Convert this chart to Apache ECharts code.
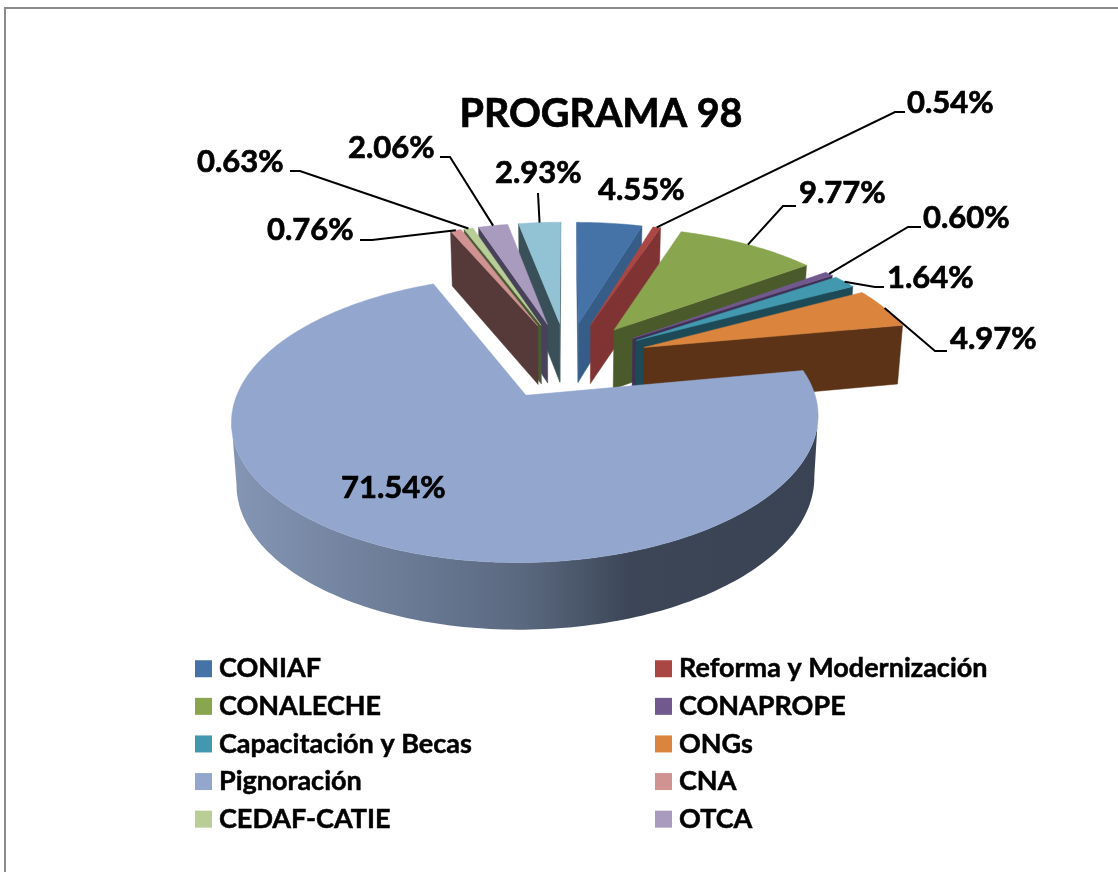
<!DOCTYPE html>
<html>
<head>
<meta charset="utf-8">
<title>PROGRAMA 98</title>
<script src="https://cdn.jsdelivr.net/npm/echarts@6/dist/echarts.min.js"></script>
<style>
html, body { margin: 0; padding: 0; background: #fff; }
#chart { width: 1118px; height: 872px; }
</style>
</head>
<body>
<div id="chart"></div>
<script>
const categories = ['CONIAF', 'Reforma y Modernización', 'CONALECHE', 'CONAPROPE', 'Capacitación y Becas',
    'ONGs', 'Pignoración', 'CNA', 'CEDAF-CATIE', 'OTCA', 'Otros'];
const shares = [4.55, 0.54, 9.77, 0.60, 1.64, 4.97, 71.54, 0.76, 0.63, 2.06, 2.93];
const topColors = ['#4572A7', '#AA4643', '#89A54E', '#71588F', '#4198AF', '#DB843D',
    '#92A6CE', '#D19392', '#B9CD96', '#A99BBD', '#91C3D5'];
const wallColors = ['#355D88', '#7F3333', '#4A5A2A', '#3F3055', '#1D4A56', '#5C3317',
    '#3C475C', '#563A3A', '#4A5A35', '#47415A', '#3A5058'];

// label text anchor (left, middle) and the elbow of each leader line, in page pixels
const labelAnchors = [[598, 190], [907, 103], [799, 193], [923, 218], [887, 278],
    [950, 339], [341, 488], [267, 230], [197, 162], [348, 148], [495, 173]];
const leaderElbows = [null, [[895, 112], [905, 112]], [[783, 206], [796, 206]], [[908, 227], [921, 227]],
    [[875, 287], [884, 287]], [[935, 351], [947, 351]], null, [[372, 240], [360, 240]],
    [[300, 171], [290, 171]], [[450, 157], [440, 157]], [[538, 193]]];

// projection of the tilted pie
const cx = 567, cy = 360, rx = 277, ry = 128, persp = 0.159, explode = 0.3, depth = 60;
const FONT = 'Lato, "Open Sans", sans-serif';

const total = shares.reduce((a, b) => a + b, 0);
const slices = [];
let acc = 0;
shares.forEach(v => {
    const start = acc / total * Math.PI * 2;
    acc += v;
    const end = acc / total * Math.PI * 2;
    slices.push({start, end, mid: (start + end) / 2});
});

function project(x, y, low) {
    const s = 1 / (1 + persp * y);
    let px = rx * x * s;
    let py = cy - ry * y * s;
    if (low) {
        px *= 0.985;
        py += depth * Math.pow(s, 0.5);
    }
    return [cx + px, py];
}

function rimPoint(sl, a, low) {
    return project(explode * Math.sin(sl.mid) + Math.sin(a), explode * Math.cos(sl.mid) + Math.cos(a), low);
}

function apexPoint(sl, low) {
    return project(explode * Math.sin(sl.mid), explode * Math.cos(sl.mid), low);
}

function renderSlice(i) {
    const sl = slices[i];
    const steps = Math.max(2, Math.ceil((sl.end - sl.start) / 0.02));
    const angles = [];
    for (let k = 0; k <= steps; k++) {
        angles.push(sl.start + (sl.end - sl.start) * k / steps);
    }
    const rim = angles.map(a => rimPoint(sl, a, false));
    const rimLow = angles.map(a => rimPoint(sl, a, true));
    const apex = apexPoint(sl, false);
    const apexLow = apexPoint(sl, true);
    const children = [];
    const wall = (pts, fill) => children.push({
        type: 'polygon', shape: {points: pts},
        style: {fill: fill, stroke: typeof fill === 'string' ? fill : null, lineWidth: 0.5}
    });

    // radial walls, only when they face the viewer
    if (rim[0][0] < apex[0]) {
        wall([apex, rim[0], rimLow[0], apexLow], wallColors[i]);
    }
    if (apex[0] < rim[steps][0]) {
        wall([rim[steps], apex, apexLow, rimLow[steps]], wallColors[i]);
    }

    // outer wall: the run of rim segments that moves right to left on screen
    const front = [];
    for (let k = 0; k < steps; k++) {
        if (rim[k + 1][0] < rim[k][0]) {
            front.push(k);
        }
    }
    if (front.length) {
        const first = front[0], last = front[front.length - 1] + 1;
        const upper = rim.slice(first, last + 1);
        const lower = rimLow.slice(first, last + 1).reverse();
        const fill = shares[i] > 50
            ? new echarts.graphic.LinearGradient(0, 0, 1, 0, [
                {offset: 0, color: '#8496B5'},
                {offset: 0.5, color: '#5A687F'},
                {offset: 0.68, color: '#3C4657'},
                {offset: 1, color: '#3A4354'}
            ])
            : wallColors[i];
        wall(upper.concat(lower), fill);
    }

    children.push({
        type: 'polygon',
        shape: {points: [apex].concat(rim)},
        style: {fill: topColors[i], stroke: topColors[i], lineWidth: 0.5}
    });
    return {type: 'group', children: children};
}

function renderLabel(params) {
    const i = params.dataIndex;
    const sl = slices[i];
    const children = [];
    if (leaderElbows[i]) {
        children.push({
            type: 'polyline',
            shape: {points: [rimPoint(sl, sl.mid, false)].concat(leaderElbows[i])},
            style: {stroke: '#000', lineWidth: 2, fill: null}
        });
    }
    children.push({
        type: 'text',
        style: {
            x: labelAnchors[i][0], y: labelAnchors[i][1],
            text: shares[i].toFixed(2) + '%',
            fill: '#000', stroke: '#000', lineWidth: 0.7,
            font: 'bold 31px ' + FONT,
            textAlign: 'left', textVerticalAlign: 'middle'
        }
    });
    return {type: 'group', children: children};
}

// far slices are painted first
const paintOrder = slices.map((sl, i) => i).sort((a, b) => Math.cos(slices[b].mid) - Math.cos(slices[a].mid));

const series = categories.map((name, i) => ({
    type: 'custom',
    name: name,
    coordinateSystem: 'none',
    silent: true,
    z: 2 + paintOrder.indexOf(i),
    itemStyle: {color: topColors[i]},
    data: [shares[i]],
    renderItem: () => renderSlice(i)
}));
series.push({
    type: 'custom',
    name: 'etiquetas',
    coordinateSystem: 'none',
    silent: true,
    z: 30,
    data: shares,
    renderItem: renderLabel
});

const legendStyle = {
    orient: 'vertical',
    top: 655,
    padding: 0,
    icon: 'rect',
    itemWidth: 17,
    itemHeight: 17,
    itemGap: 10.1,
    selectedMode: false,
    textStyle: {
        fontFamily: FONT, fontWeight: 'bold', fontSize: 27, color: '#000', padding: [0, 0, 0, 2],
        textBorderColor: '#000', textBorderWidth: 0.5
    }
};

const chart = echarts.init(document.getElementById('chart'), null, {renderer: 'canvas'});
chart.setOption({
    animation: false,
    backgroundColor: '#fff',
    title: {
        text: 'PROGRAMA 98',
        left: 596,
        top: 89,
        textAlign: 'center',
        textStyle: {
            fontFamily: FONT, fontWeight: 'bold', fontSize: 39.5, color: '#000',
            textBorderColor: '#000', textBorderWidth: 0.7
        }
    },
    legend: [
        Object.assign({}, legendStyle, {left: 195, data: categories.filter((c, i) => i < 10 && i % 2 === 0)}),
        Object.assign({}, legendStyle, {left: 655, data: categories.filter((c, i) => i < 10 && i % 2 === 1)})
    ],
    graphic: [{
        type: 'rect',
        silent: true,
        shape: {x: 5, y: 8, width: 1300, height: 1000},
        style: {fill: null, stroke: '#8A8A8A', lineWidth: 2}
    }],
    series: series
});
</script>
</body>
</html>
